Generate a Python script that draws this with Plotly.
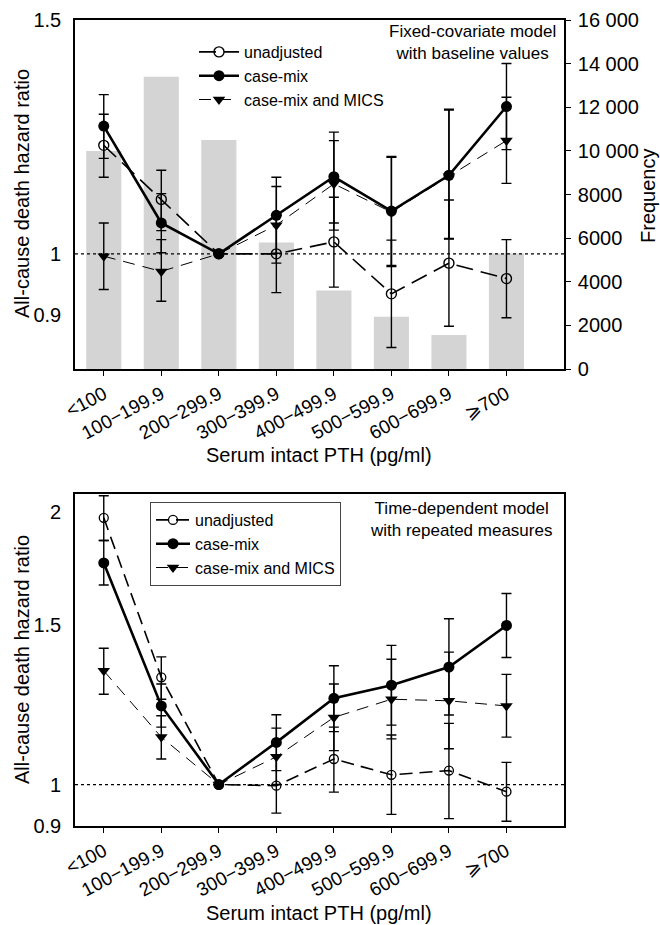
import math
import plotly.graph_objects as go

# ---------------- data ----------------
categories = ["<100", "100\u2212199.9", "200\u2212299.9", "300\u2212399.9",
              "400\u2212499.9", "500\u2212599.9", "600\u2212699.9", "\u2a7e700"]
frequency = [10000, 13400, 10500, 5800, 3600, 2400, 1560, 5300]

# Fixed-covariate model with baseline values
fx_unadj_hr = [1.207, 1.099, 1.0, 1.000, 1.021, 0.933, 0.984, 0.958]
fx_unadj_lo = [1.142, 1.041, 1.0, 0.935, 0.944, 0.850, 0.882, 0.895]
fx_unadj_hi = [1.274, 1.156, 1.0, 1.071, 1.103, 1.024, 1.098, 1.025]
fx_case_hr = [1.248, 1.055, 1.0, 1.069, 1.143, 1.077, 1.146, 1.291]
fx_case_lo = [1.180, 1.002, 1.0, 1.001, 1.055, 0.980, 1.027, 1.198]
fx_case_hi = [1.318, 1.110, 1.0, 1.142, 1.235, 1.184, 1.285, 1.391]
fx_mics_hr = [0.996, 0.970, 1.0, 1.051, 1.129, 1.075, 1.144, 1.217]
fx_mics_lo = [0.940, 0.921, 1.0, 0.984, 1.042, 0.978, 1.026, 1.130]
fx_mics_hi = [1.055, 1.025, 1.0, 1.124, 1.217, 1.182, 1.283, 1.312]

# Time-dependent model with repeated measures
td_unadj_hr = [1.969, 1.313, 1.0, 0.997, 1.067, 1.025, 1.036, 0.982]
td_unadj_lo = [1.859, 1.242, 1.0, 0.930, 0.981, 0.927, 0.917, 0.911]
td_unadj_hi = [2.083, 1.383, 1.0, 1.078, 1.157, 1.134, 1.168, 1.058]
td_case_hr = [1.756, 1.221, 1.0, 1.113, 1.245, 1.287, 1.348, 1.498]
td_case_lo = [1.660, 1.157, 1.0, 1.036, 1.144, 1.163, 1.193, 1.381]
td_case_hi = [1.859, 1.291, 1.0, 1.194, 1.352, 1.424, 1.524, 1.625]
td_mics_hr = [1.335, 1.128, 1.0, 1.073, 1.186, 1.242, 1.237, 1.221]
td_mics_lo = [1.258, 1.067, 1.0, 1.000, 1.090, 1.123, 1.095, 1.128]
td_mics_hi = [1.414, 1.191, 1.0, 1.154, 1.291, 1.375, 1.400, 1.323]

hr_ticks_top = [0.9, 1, 1.5]
hr_ticks_bottom = [0.9, 1, 1.5, 2]
freq_ticks = [0, 2000, 4000, 6000, 8000, 10000, 12000, 14000, 16000]
freq_ticktext = ["0", "2000", "4000", "6000", "8000", "10 000", "12 000", "14 000", "16 000"]
reference_hr = 1.0

series_names = ["unadjusted", "case-mix", "case-mix and MICS"]

# ---------------- styling ----------------
FONT = "Liberation Sans, Arial, Helvetica, sans-serif"
BLACK = "black"
W, H = 660, 925


def px_x(p):
    return p / W


def px_y(p):
    return 1 - p / H


def err(hr, lo, hi):
    up = [None if h == v and l == v else h - v for v, l, h in zip(hr, lo, hi)]
    dn = [None if h == v and l == v else v - l for v, l, h in zip(hr, lo, hi)]
    return up, dn


styles_top = {
    "unadjusted": dict(line=dict(color=BLACK, width=1.6, dash="17px,8px"),
                       marker=dict(symbol="circle-open", size=10, color=BLACK,
                                   line=dict(color=BLACK, width=1.4))),
    "case-mix": dict(line=dict(color=BLACK, width=2.6),
                     marker=dict(symbol="circle", size=11, color=BLACK)),
    "case-mix and MICS": dict(line=dict(color=BLACK, width=1.0, dash="12px,8px"),
                              marker=dict(symbol="triangle-down", size=11, color=BLACK)),
}
styles_bottom = dict(styles_top)
styles_bottom["unadjusted"] = dict(line=dict(color=BLACK, width=1.6, dash="13px,7px"),
                                   marker=dict(symbol="circle-open", size=9, color=BLACK,
                                               line=dict(color=BLACK, width=1.3)))

fig = go.Figure()

# Frequency bars (top panel, right axis)
fig.add_trace(go.Bar(x=categories, y=frequency, width=0.61,
                     marker=dict(color="#d4d4d4", line=dict(width=0)),
                     xaxis="x", yaxis="y", showlegend=False, name="Frequency"))

top_sets = [(fx_unadj_hr, fx_unadj_lo, fx_unadj_hi),
            (fx_case_hr, fx_case_lo, fx_case_hi),
            (fx_mics_hr, fx_mics_lo, fx_mics_hi)]
bot_sets = [(td_unadj_hr, td_unadj_lo, td_unadj_hi),
            (td_case_hr, td_case_lo, td_case_hi),
            (td_mics_hr, td_mics_lo, td_mics_hi)]

for name, (hr, lo, hi) in zip(series_names, top_sets):
    up, dn = err(hr, lo, hi)
    fig.add_trace(go.Scatter(
        x=categories, y=hr, mode="lines+markers", name=name,
        xaxis="x", yaxis="y2", legend="legend",
        error_y=dict(type="data", symmetric=False, array=up, arrayminus=dn,
                     color=BLACK, thickness=1.4, width=5),
        **styles_top[name]))

for name, (hr, lo, hi) in zip(series_names, bot_sets):
    up, dn = err(hr, lo, hi)
    fig.add_trace(go.Scatter(
        x=categories, y=hr, mode="lines+markers", name=name,
        xaxis="x2", yaxis="y3", legend="legend2",
        error_y=dict(type="data", symmetric=False, array=up, arrayminus=dn,
                     color=BLACK, thickness=1.4, width=5),
        **styles_bottom[name]))

# Reference lines at HR = 1
for xr, yref in [("x domain", "y2"), ("x2 domain", "y3")]:
    fig.add_shape(type="line", xref=xr, x0=0, x1=1, yref=yref,
                  y0=reference_hr, y1=reference_hr,
                  line=dict(color=BLACK, width=1.2, dash="dot"), layer="above")

xdom = [px_x(75), px_x(564)]
top_dom = [px_y(369), px_y(20)]
bot_dom = [px_y(826), px_y(494)]

tick_font = dict(family=FONT, size=20, color=BLACK)
xtick_font = dict(family=FONT, size=19, color=BLACK)

common_x = dict(type="category", range=[-0.5, 8.0], showline=True, linecolor=BLACK,
                linewidth=1.6, mirror=True, ticks="outside", ticklen=5, tickwidth=1.4,
                tickcolor=BLACK, tickangle=-28, tickfont=xtick_font, showgrid=False,
                zeroline=False, automargin=False, fixedrange=True)

fig.update_layout(
    width=W, height=H,
    margin=dict(l=0, r=0, t=0, b=0),
    paper_bgcolor="white", plot_bgcolor="white",
    font=dict(family=FONT, color=BLACK),
    barmode="overlay",
    xaxis=dict(domain=xdom, anchor="y", **common_x),
    xaxis2=dict(domain=xdom, anchor="y3", **common_x),
    yaxis=dict(domain=top_dom, anchor="x", side="right", range=[0, 16000],
               tickvals=freq_ticks, ticktext=freq_ticktext, showline=True,
               linecolor=BLACK, linewidth=1.6, ticks="outside", ticklen=5,
               tickwidth=1.4, tickcolor=BLACK, tickfont=tick_font, showgrid=False,
               zeroline=False, automargin=False, ticklabelstandoff=3),
    yaxis2=dict(domain=top_dom, anchor="x", overlaying="y", side="left", type="log",
                range=[math.log10(0.819), math.log10(1.5)],
                tickvals=hr_ticks_top, ticktext=[str(v) for v in hr_ticks_top],
                showline=True, linecolor=BLACK, linewidth=1.6, ticks="outside",
                ticklen=8, tickcolor="rgba(0,0,0,0)", tickfont=tick_font,
                showgrid=False, zeroline=False, automargin=False),
    yaxis3=dict(domain=bot_dom, anchor="x2", type="log",
                range=[math.log10(0.9), math.log10(2.092)],
                tickvals=hr_ticks_bottom, ticktext=[str(v) for v in hr_ticks_bottom],
                showline=True, linecolor=BLACK, linewidth=1.6, mirror=True,
                ticks="outside", ticklen=8, tickcolor="rgba(0,0,0,0)",
                tickfont=tick_font, showgrid=False, zeroline=False, automargin=False),
    legend=dict(x=px_x(194), y=px_y(35), xanchor="left", yanchor="top",
                bgcolor="rgba(0,0,0,0)", borderwidth=0, itemwidth=40,
                font=dict(family=FONT, size=16, color=BLACK), tracegroupgap=0),
    legend2=dict(x=px_x(150), y=px_y(502), xanchor="left", yanchor="top",
                 bgcolor="white", bordercolor="#444", borderwidth=1, itemwidth=34,
                 font=dict(family=FONT, size=16, color=BLACK), tracegroupgap=0),
    showlegend=True,
)

ann_font = dict(family=FONT, size=17, color=BLACK)
title_font = dict(family=FONT, size=20, color=BLACK)
fig.add_annotation(text="Fixed-covariate model<br>with baseline values",
                   xref="paper", yref="paper", x=px_x(472), y=px_y(20),
                   xanchor="center", yanchor="top", align="center",
                   showarrow=False, font=ann_font)
fig.add_annotation(text="Time-dependent model<br>with repeated measures",
                   xref="paper", yref="paper", x=px_x(461), y=px_y(497),
                   xanchor="center", yanchor="top", align="center",
                   showarrow=False, font=ann_font)
# axis titles
fig.add_annotation(text="All-cause death hazard ratio", xref="paper", yref="paper",
                   x=px_x(22), y=px_y(194), textangle=-90, showarrow=False,
                   xanchor="center", yanchor="middle", font=title_font)
fig.add_annotation(text="All-cause death hazard ratio", xref="paper", yref="paper",
                   x=px_x(22), y=px_y(660), textangle=-90, showarrow=False,
                   xanchor="center", yanchor="middle", font=title_font)
fig.add_annotation(text="Frequency", xref="paper", yref="paper",
                   x=px_x(648), y=px_y(196), textangle=-90, showarrow=False,
                   xanchor="center", yanchor="middle", font=title_font)
fig.add_annotation(text="Serum intact PTH (pg/ml)", xref="paper", yref="paper",
                   x=px_x(319), y=px_y(455), showarrow=False,
                   xanchor="center", yanchor="middle", font=title_font)
fig.add_annotation(text="Serum intact PTH (pg/ml)", xref="paper", yref="paper",
                   x=px_x(319), y=px_y(913), showarrow=False,
                   xanchor="center", yanchor="middle", font=title_font)

fig.write_html("out.html", config={"displayModeBar": False},
               post_script="document.body.style.margin='0px';document.body.style.padding='0px';")
